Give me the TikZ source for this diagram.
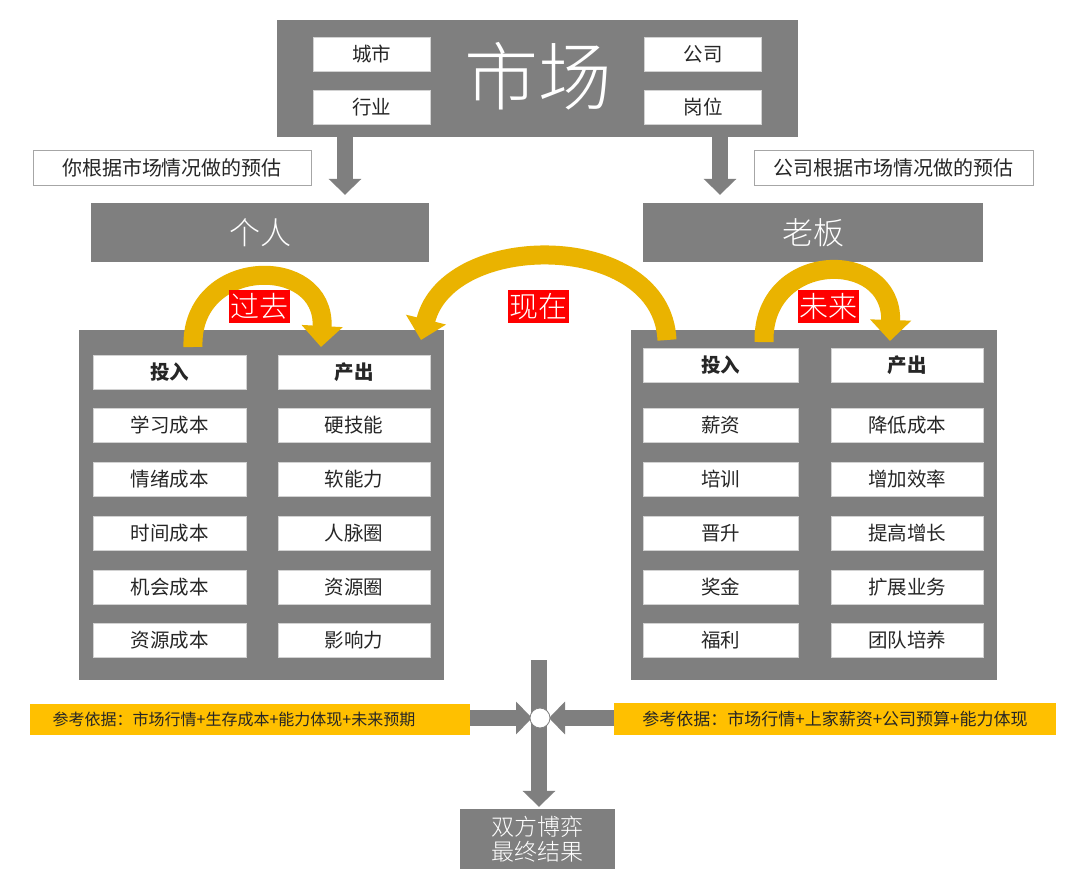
\documentclass[tikz,border=0pt]{standalone}
\usepackage{fontspec}
\setmainfont{Noto Sans CJK SC}
\newfontfamily\lightcjk{Noto Sans CJK SC Light}
\usetikzlibrary{arrows.meta,calc}
\definecolor{gbox}{HTML}{7F7F7F}
\definecolor{gold}{HTML}{EAB300}
\definecolor{ybar}{HTML}{FFC000}
\definecolor{redl}{HTML}{FF0000}
\definecolor{txt}{HTML}{262626}
\tikzset{
  graybox/.style={fill=gbox, draw=none, inner sep=0pt},
  cell/.style={fill=white, draw=gray!35, line width=0.8pt, minimum width=153pt, minimum height=34pt, inner sep=0pt, text=txt, font=\fontsize{19.5}{21}\selectfont},
  hcell/.style={cell, font=\fontsize{19.5}{21}\selectfont\bfseries},
  topcell/.style={cell, minimum width=117pt},
  note/.style={fill=white, draw=gray!70, line width=1pt, inner sep=0pt, text=txt, font=\fontsize{20}{22}\selectfont},
  redlbl/.style={fill=redl, text=white, minimum width=61pt, minimum height=33pt, inner sep=0pt, font=\lightcjk\fontsize{29}{30}\selectfont},
  ybarbox/.style={fill=ybar, text=txt, minimum height=31pt, inner sep=0pt},
  garrow/.style={draw=gbox, line width=16pt, -{Triangle[width=32pt,length=16pt]}},
  curvearrow/.style={draw=gold, line width=19pt, -{Triangle[width=40pt,length=21pt]}},
}
\begin{document}
\begin{tikzpicture}[x=1pt,y=-1pt]
\useasboundingbox (0,0) rectangle (1080,881);
\fill[white] (0,0) rectangle (1080,881);

% top market box
\node[graybox, minimum width=521pt, minimum height=117pt] (market) at (537.5,78.5) {};
\node[text=white, font=\lightcjk\fontsize{74}{74}\selectfont] (mkttxt) at (538,76) {市场};
\node[topcell] (city) at (371.5,54) {城市};
\node[topcell] (industry) at (371.5,107) {行业};
\node[topcell] (company) at (703,54) {公司};
\node[topcell] (post) at (703,107) {岗位};

% notes
\node[note, minimum width=278pt, minimum height=35pt] (noteL) at (172,167.5) {你根据市场情况做的预估};
\node[note, minimum width=279pt, minimum height=35pt] (noteR) at (893.5,167.5) {公司根据市场情况做的预估};

% person / boss
\node[graybox, minimum width=338pt, minimum height=59pt, text=white, font=\lightcjk\fontsize{31}{33}\selectfont] (person) at (260,232.5) {个人};
\node[graybox, minimum width=340pt, minimum height=59pt, text=white, font=\lightcjk\fontsize{31}{33}\selectfont] (boss) at (813,232.5) {老板};

\coordinate (aLs) at (345,137);
\coordinate (aRs) at (720,137);
\draw[garrow] (aLs) -- ([yshift=8pt]aLs |- person.north);
\draw[garrow] (aRs) -- ([yshift=8pt]aRs |- boss.north);

% panels
\node[graybox, minimum width=365pt, minimum height=350pt] (panelL) at (261.5,505) {};
\node[graybox, minimum width=366pt, minimum height=350pt] (panelR) at (814,505) {};

% left panel cells
\node[hcell] (lin) at (169.5,372) {投入};
\node[hcell, minimum width=152pt] (lout) at (354,372) {产出};
\node[cell] (l1) at (169.5,425.5) {学习成本};
\node[cell, minimum width=152pt] (r1) at (354,425.5) {硬技能};
\node[cell] (l2) at (169.5,479.5) {情绪成本};
\node[cell, minimum width=152pt] (r2) at (354,479.5) {软能力};
\node[cell] (l3) at (169.5,533) {时间成本};
\node[cell, minimum width=152pt] (r3) at (354,533) {人脉圈};
\node[cell] (l4) at (169.5,587) {机会成本};
\node[cell, minimum width=152pt] (r4) at (354,587) {资源圈};
\node[cell] (l5) at (169.5,640) {资源成本};
\node[cell, minimum width=152pt] (r5) at (354,640) {影响力};

% right panel cells
\node[hcell, minimum width=155pt] (bin) at (720.5,365) {投入};
\node[hcell, minimum width=152pt] (bout) at (907,365) {产出};
\node[cell, minimum width=155pt] (bl1) at (720.5,425.5) {薪资};
\node[cell, minimum width=152pt] (br1) at (907,425.5) {降低成本};
\node[cell, minimum width=155pt] (bl2) at (720.5,479.5) {培训};
\node[cell, minimum width=152pt] (br2) at (907,479.5) {增加效率};
\node[cell, minimum width=155pt] (bl3) at (720.5,533) {晋升};
\node[cell, minimum width=152pt] (br3) at (907,533) {提高增长};
\node[cell, minimum width=155pt] (bl4) at (720.5,587) {奖金};
\node[cell, minimum width=152pt] (br4) at (907,587) {扩展业务};
\node[cell, minimum width=155pt] (bl5) at (720.5,640) {福利};
\node[cell, minimum width=152pt] (br5) at (907,640) {团队培养};

% curved arrows
\coordinate (pastS) at (193,347);
\coordinate (pastE) at (321,347);
\draw[curvearrow] (pastS) .. controls (190,256) and (326,254) .. (pastE);
\coordinate (nowS) at (667,340);
\coordinate (nowE) at (421,340);
\draw[curvearrow] (nowS) .. controls (662,230) and (448,230) .. (nowE);
\coordinate (futS) at (764,342);
\coordinate (futE) at (890,341);
\draw[curvearrow] (futS) .. controls (762,250) and (893,248) .. (futE);

\node[redlbl] (past) at (259.5,306.5) {过去};
\node[redlbl] (now) at (538.5,306.5) {现在};
\node[redlbl] (future) at (828.5,306.5) {未来};

% bottom
\node[ybarbox, minimum width=440pt] (refL) at (250,719.5) {};
\node[text=txt, font=\fontsize{16}{18}\selectfont] (refLtxt) at (234,719.5) {参考依据：市场行情+生存成本+能力体现+未来预期};
\node[ybarbox, minimum width=442pt, minimum height=32pt, font=\fontsize{17}{19}\selectfont] (refR) at (835,719) {参考依据：市场行情+上家薪资+公司预算+能力体现};

\node[graybox, minimum width=155pt, minimum height=60pt, text=white, align=center, font=\lightcjk\fontsize{23}{25}\selectfont] (result) at (537.5,839) {双方博弈\\最终结果};

\coordinate (vtop) at (539,660);
\draw[garrow] (vtop) -- ([yshift=2pt]result.north -| vtop);
\coordinate (hub) at (540,718);
\draw[garrow] (refL.east |- hub) -- ($(hub)+(-8,0)$);
\draw[garrow] (refR.west |- hub) -- ($(hub)+(9,0)$);
\node[circle, fill=white, draw=gbox, line width=0.8pt, minimum size=20pt, inner sep=0pt] (hubc) at (hub) {};
\end{tikzpicture}
\end{document}
